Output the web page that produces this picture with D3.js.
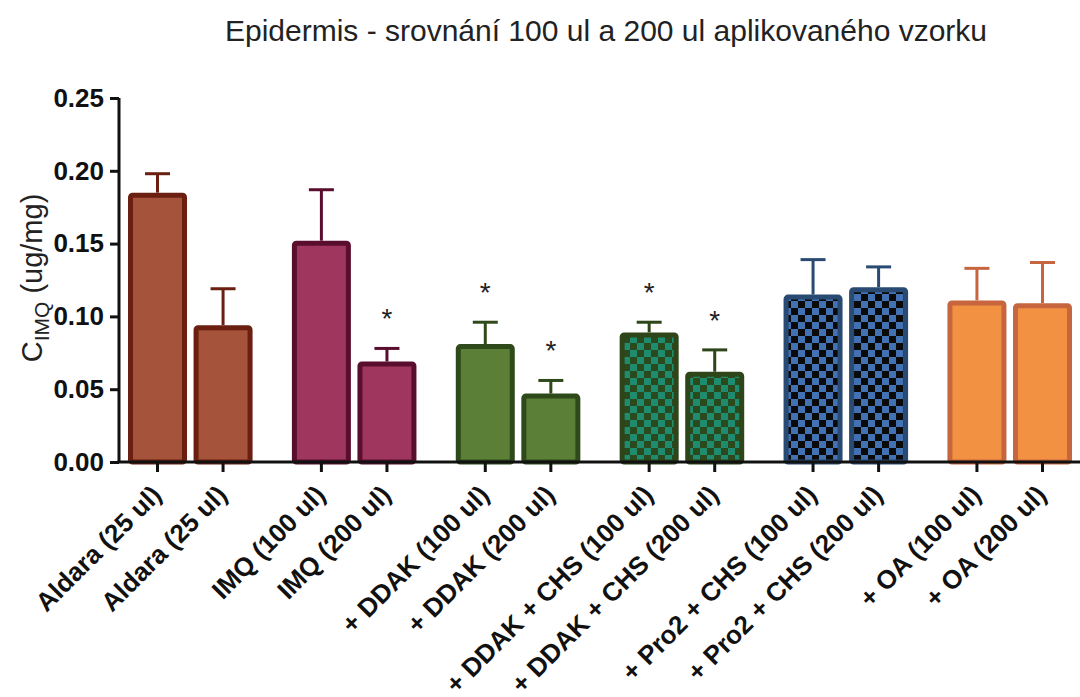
<!DOCTYPE html>
<html>
<head>
<meta charset="utf-8">
<script src="https://cdn.jsdelivr.net/npm/d3@7"></script>
<style>
  body { margin: 0; background: #fff; }
  svg { display: block; font-family: "Liberation Sans", Arial, sans-serif; }
</style>
</head>
<body>
<svg id="chart" width="1080" height="697"></svg>
<script>
"use strict";
// groups of two bars each
const groups = ["Aldara", "IMQ", "DDAK", "DDAK+CHS", "Pro2+CHS", "OA"];
const labels = [
    "Aldara (25 ul)", "Aldara (25 ul)",
    "IMQ (100 ul)", "IMQ (200 ul)",
    "+ DDAK (100 ul)", "+ DDAK (200 ul)",
    "+ DDAK + CHS (100 ul)", "+ DDAK + CHS (200 ul)",
    "+ Pro2 + CHS (100 ul)", "+ Pro2 + CHS (200 ul)",
    "+ OA (100 ul)", "+ OA (200 ul)"
];
const means = [0.185, 0.094, 0.152, 0.069, 0.081, 0.047, 0.089, 0.062, 0.115, 0.120, 0.111, 0.109];
const errors = [0.013, 0.025, 0.035, 0.009, 0.015, 0.009, 0.007, 0.015, 0.024, 0.014, 0.022, 0.028];
const significant = [false, false, false, true, true, true, true, true, false, false, false, false];
const yTicks = [0, 0.05, 0.10, 0.15, 0.20, 0.25];

const fills = ["#a5533a", "#9e365d", "#5b7f37", "url(#checkGreen)", "url(#checkBlue)", "#f39142"];
const strokes = ["#6a1f10", "#5a0e2e", "#2f4a1a", "#2d4519", "#294a73", "#c7653f"];

const svg = d3.select("#chart");
const x0 = 119, x1 = 1081, yBottom = 462, yTop = 98;

// checker patterns
const defs = svg.append("defs");
function checker(id, a, b) {
    const p = defs.append("pattern").attr("id", id)
        .attr("patternUnits", "userSpaceOnUse")
        .attr("width", 14).attr("height", 14);
    p.append("rect").attr("width", 14).attr("height", 14).attr("fill", a);
    p.append("rect").attr("width", 7).attr("height", 7).attr("fill", b);
    p.append("rect").attr("x", 7).attr("y", 7).attr("width", 7).attr("height", 7).attr("fill", b);
}
checker("checkGreen", "#2a4a1d", "#1f8c70");
checker("checkBlue", "#0a0a0a", "#4272b4");

const y = d3.scaleLinear().domain([0, 0.25]).range([yBottom, yTop]);
const xg = d3.scaleBand().domain(groups).range([x0, x1]).paddingInner(0.2).paddingOuter(0.035);
const xi = d3.scaleBand().domain([0, 1]).range([0, xg.bandwidth()]).paddingInner(0.1).paddingOuter(0.05);

const bars = labels.map((l, i) => ({
    label: l, mean: means[i], err: errors[i], sig: significant[i],
    group: groups[Math.floor(i / 2)], gi: Math.floor(i / 2), k: i % 2
}));
const cx = d => xg(d.group) + xi(d.k) + xi.bandwidth() / 2;

// error bars (drawn first so bar sits over the stem)
const eb = svg.append("g");
eb.selectAll("line.stem").data(bars).join("line")
    .attr("x1", cx).attr("x2", cx)
    .attr("y1", d => y(d.mean)).attr("y2", d => y(d.mean + d.err))
    .attr("stroke", d => strokes[d.gi]).attr("stroke-width", 3);
eb.selectAll("line.cap").data(bars).join("line")
    .attr("x1", d => cx(d) - 12.5).attr("x2", d => cx(d) + 12.5)
    .attr("y1", d => y(d.mean + d.err)).attr("y2", d => y(d.mean + d.err))
    .attr("stroke", d => strokes[d.gi]).attr("stroke-width", 3);

// bars
const sw = 5;
svg.append("g").selectAll("rect").data(bars).join("rect")
    .attr("x", d => xg(d.group) + xi(d.k) + sw / 2)
    .attr("width", xi.bandwidth() - sw)
    .attr("y", d => y(d.mean) + sw / 2)
    .attr("height", d => yBottom - y(d.mean) - sw / 2)
    .attr("rx", 2)
    .attr("fill", d => fills[d.gi])
    .attr("stroke", d => strokes[d.gi])
    .attr("stroke-width", sw);

// significance stars
svg.append("g").selectAll("text").data(bars.filter(d => d.sig)).join("text")
    .attr("x", cx).attr("y", d => y(d.mean + d.err) - 20)
    .attr("text-anchor", "middle")
    .attr("font-size", 28).attr("fill", "#222")
    .text("*");

// y axis
const yAxis = svg.append("g").attr("transform", `translate(${x0},0)`)
    .call(d3.axisLeft(y).tickValues(yTicks).tickFormat(d3.format(".2f")).tickSize(9).tickPadding(6));
yAxis.select(".domain").attr("stroke", "#111").attr("stroke-width", 3).attr("d", `M0,${yTop}V${yBottom}`);
yAxis.selectAll(".tick line").attr("stroke", "#111").attr("stroke-width", 3);
yAxis.selectAll(".tick text").attr("font-size", 26).attr("font-weight", "bold").attr("fill", "#111")
    .attr("font-family", "Liberation Sans, Arial, sans-serif");

// x axis
const xAxis = svg.append("g").attr("transform", `translate(0,${yBottom})`);
xAxis.append("line").attr("x1", x0 - 1.5).attr("x2", x1).attr("stroke", "#111").attr("stroke-width", 3);
xAxis.selectAll("line.tk").data(bars).join("line")
    .attr("x1", cx).attr("x2", cx).attr("y1", 0).attr("y2", 10)
    .attr("stroke", "#111").attr("stroke-width", 3);
xAxis.selectAll("text").data(bars).join("text")
    .attr("transform", d => `translate(${cx(d) - 1},${28}) rotate(-45)`)
    .attr("text-anchor", "end")
    .attr("dy", "0.35em")
    .attr("font-size", 26).attr("font-weight", "bold").attr("fill", "#111")
    .text(d => d.label);

// y label
const yl = svg.append("text")
    .attr("transform", "translate(42,278) rotate(-90)")
    .attr("text-anchor", "middle")
    .attr("font-size", 29).attr("fill", "#222");
yl.append("tspan").text("C");
yl.append("tspan").attr("font-size", 21).attr("dy", 7).text("IMQ");
yl.append("tspan").attr("dy", -7).text(" (ug/mg)");

// title
svg.append("text")
    .attr("x", 606).attr("y", 41)
    .attr("text-anchor", "middle")
    .attr("font-size", 30).attr("fill", "#222")
    .text("Epidermis - srovnání 100 ul a 200 ul aplikovaného vzorku");
</script>
</body>
</html>
